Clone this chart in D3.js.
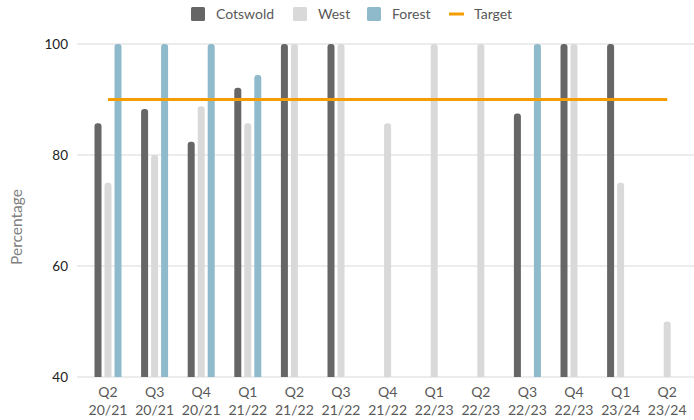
<!DOCTYPE html>
<html><head><meta charset="utf-8">
<script src="https://cdn.jsdelivr.net/npm/d3@7"></script>
<style>body{margin:0;background:#fff}svg{display:block}</style>
</head><body>
<svg id="c" width="694" height="420"></svg>
<script>
const quarters = ["Q2","Q3","Q4","Q1","Q2","Q3","Q4","Q1","Q2","Q3","Q4","Q1","Q2"];
const years = ["20/21","20/21","20/21","21/22","21/22","21/22","21/22","22/23","22/23","22/23","22/23","23/24","23/24"];
const cotswold = [85.7, 88.3, 82.4, 92.1, 100, 100, null, null, null, 87.5, 100, 100, null];
const west =     [75, 80, 88.8, 85.7, 100, 100, 85.7, 100, 100, null, 100, 75, 50];
const forest =   [100, 100, 100, 94.4, null, null, null, null, null, 100, null, null, null];
const target = 90;
const yTicks = [40, 60, 80, 100];
const seriesNames = ["Cotswold","West","Forest"];
const colors = ["#666666","#d9d9d9","#8fbacc"];
const targetColor = "#f59c00";

const svg = d3.select("#c");
const font = "Lato, 'Open Sans', sans-serif";
const idx = d3.range(quarters.length);
const x = d3.scaleBand().domain(idx).range([84.7, 690.5]);
const y = d3.scaleLinear().domain([40, 100]).range([377, 44]);

// gridlines
svg.append("g").selectAll("line").data(yTicks).join("line")
  .attr("x1", 77).attr("x2", 694)
  .attr("y1", d => y(d)).attr("y2", d => y(d))
  .attr("stroke", "#d9d9d9").attr("stroke-width", 1);

// y labels
svg.append("g").selectAll("text").data(yTicks).join("text")
  .attr("x", 68).attr("y", d => y(d)).attr("dy", "0.35em")
  .attr("text-anchor", "end").attr("font-family", font).attr("font-size", 13.5)
  .attr("fill", "#222").text(d => d);

// y title
svg.append("text").attr("transform", "translate(22,227) rotate(-90)")
  .attr("text-anchor", "middle").attr("font-family", font).attr("font-size", 15.5)
  .attr("fill", "#808080").text("Percentage");

// bars
const series = [cotswold, west, forest];
const bw = 7;
series.forEach((vals, s) => {
  svg.append("g").selectAll("path").data(idx.filter(i => vals[i] != null)).join("path")
    .attr("fill", colors[s])
    .attr("d", i => {
      const cx = x(i) + x.bandwidth()/2 + (s - 1) * 10;
      const x0 = cx - bw/2, x1 = cx + bw/2;
      const yt = y(vals[i]), yb = y(40), r = 3;
      return `M${x0},${yb}V${yt+r}Q${x0},${yt} ${x0+r},${yt}H${x1-r}Q${x1},${yt} ${x1},${yt+r}V${yb}Z`;
    });
});

// target line
svg.append("line")
  .attr("x1", x(0) + x.bandwidth()/2).attr("x2", x(idx.length-1) + x.bandwidth()/2)
  .attr("y1", y(target)).attr("y2", y(target))
  .attr("stroke", targetColor).attr("stroke-width", 3);

// x labels
const xl = svg.append("g").selectAll("text").data(idx).join("text")
  .attr("text-anchor", "middle").attr("font-family", font).attr("font-size", 14)
  .attr("fill", "#595959");
xl.append("tspan").attr("x", i => x(i) + x.bandwidth()/2).attr("y", 397).text(i => quarters[i]);
xl.append("tspan").attr("x", i => x(i) + x.bandwidth()/2).attr("y", 415).text(i => years[i]);

// legend
const leg = [{n:"Cotswold", x:191, c:colors[0], t:"sq"},{n:"West", x:293, c:colors[1], t:"sq"},{n:"Forest", x:367, c:colors[2], t:"sq"},{n:"Target", x:449, c:targetColor, t:"ln"}];
const lg = svg.append("g");
leg.forEach(l => {
  if (l.t === "sq") lg.append("rect").attr("x", l.x).attr("y", 7).attr("width", 14).attr("height", 14).attr("rx", 1.5).attr("fill", l.c);
  else lg.append("line").attr("x1", l.x).attr("x2", l.x + 15).attr("y1", 14).attr("y2", 14).attr("stroke", l.c).attr("stroke-width", 3);
  lg.append("text").attr("x", l.x + 25).attr("y", 14).attr("dy", "0.35em")
    .attr("font-family", font).attr("font-size", 14).attr("fill", "#595959").text(l.n);
});
</script>
</body></html>
